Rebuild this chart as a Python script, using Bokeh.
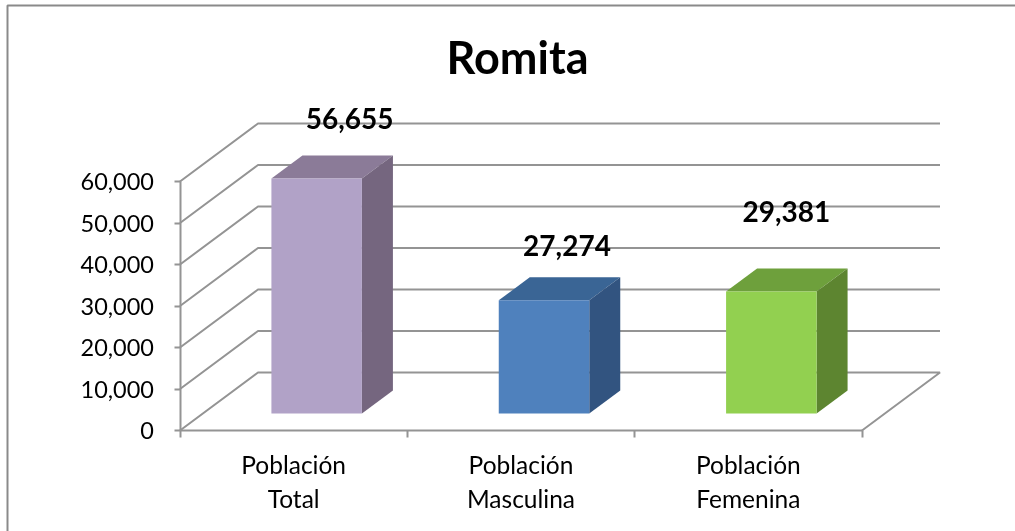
from bokeh.plotting import figure
from bokeh.embed import file_html
from bokeh.resources import INLINE
from bokeh.core.properties import value
from bokeh.models import (BoxAnnotation, ColumnDataSource, FixedTicker, Label,
                          NumeralTickFormatter, Range1d)

# ---- data ----
categories = ["Población\nTotal", "Población\nMasculina", "Población\nFemenina"]
population = [56655, 27274, 29381]
y_ticks = [0, 10000, 20000, 30000, 40000, 50000, 60000]
title_text = "Romita"

# ---- colours ----
front_colors = ["#B1A2C7", "#4F81BD", "#92D050"]
top_colors = ["#8B7B98", "#3A6595", "#6EA03C"]
side_colors = ["#75667F", "#325480", "#5D8530"]
GRID = "#949494"
FONT = "Lato"

# ---- geometry (canvas pixels of the plot box) ----
W, H = 1015, 531
X0, X3 = 179.5, 861.5      # front axis ends
Y0, Y60 = 430.0, 181.0     # value 0 and 60,000 on the front axis
ux = (X3 - X0) / 3
uy = (Y0 - Y60) / 60000
wall_dx, wall_dy = 78 / ux, 58 / uy      # depth of the floor, data units
bar_in_x, bar_in_y = 23 / ux, 17 / uy    # bar front offset from the front axis
bar_dx, bar_dy = 31 / ux, 23 / uy        # bar depth
bar_w = 90.5 / ux

p = figure(width=W, height=H, output_backend="svg", toolbar_location=None,
           x_range=Range1d(-X0 / ux, (W - X0) / ux),
           y_range=Range1d(-(H - Y0) / uy, Y0 / uy),
           min_border=0, min_border_left=0, min_border_right=0,
           min_border_top=0, min_border_bottom=0,
           outline_line_color=None, background_fill_color="white",
           border_fill_color="white")
p.styles = {"position": "fixed", "left": "0px", "top": "0px"}
p.grid.visible = False

# axes drawn inside the full-canvas frame
ya = p.yaxis[0]
ya.fixed_location = 0
ya.bounds = (0, y_ticks[-1])
ya.ticker = FixedTicker(ticks=y_ticks)
ya.formatter = NumeralTickFormatter(format="0,0")
ya.axis_line_color = GRID
ya.axis_line_width = 2
ya.major_tick_line_color = GRID
ya.major_tick_line_width = 2
ya.major_tick_out = 6
ya.major_tick_in = 0
ya.minor_tick_line_color = None
ya.major_label_standoff = 20
ya.major_label_text_font = FONT
ya.major_label_text_font_size = "23.5px"
ya.major_label_text_color = "black"

xa = p.xaxis[0]
xa.fixed_location = 0
xa.bounds = (0, 3)
centres = [i + 0.5 for i in range(len(categories))]
xa.ticker = FixedTicker(ticks=centres, minor_ticks=[0, 1, 2, 3])
xa.major_label_overrides = {c: n for c, n in zip(centres, categories)}
xa.axis_line_color = GRID
xa.axis_line_width = 2
xa.major_tick_line_color = None
xa.major_tick_out = 0
xa.major_tick_in = 0
xa.minor_tick_line_color = GRID
xa.minor_tick_line_width = 2
xa.minor_tick_out = 7
xa.minor_tick_in = 0
xa.major_label_standoff = 12
xa.major_label_text_font = FONT
xa.major_label_text_font_size = "24.5px"
xa.major_label_text_color = "black"

# walls: side-wall diagonals and back-wall grid lines
for t in y_ticks[1:]:
    p.line([0, wall_dx, 3 + wall_dx], [t, t + wall_dy, t + wall_dy],
           line_color=GRID, line_width=2)
# floor
p.line([0, wall_dx, 3 + wall_dx, 3], [0, wall_dy, wall_dy, 0],
       line_color=GRID, line_width=2)

# 3D bars
for i, v in enumerate(population):
    x1 = centres[i] + bar_in_x - bar_w / 2
    x2 = x1 + bar_w
    b = bar_in_y
    p.patch([x1, x2, x2 + bar_dx, x1 + bar_dx],
            [b + v, b + v, b + v + bar_dy, b + v + bar_dy],
            fill_color=top_colors[i], line_color=None)
    p.patch([x2, x2 + bar_dx, x2 + bar_dx, x2],
            [b, b + bar_dy, b + v + bar_dy, b + v],
            fill_color=side_colors[i], line_color=None)
    p.patch([x1, x2, x2, x1], [b, b, b + v, b + v],
            fill_color=front_colors[i], line_color=None)

# value labels
label_dx = [56, 46, 38]
label_dy = [-60, -55, -80]
src = ColumnDataSource(dict(
    x=centres, y=[v + bar_in_y for v in population],
    text=[f"{v:,}" for v in population], dx=label_dx, dy=label_dy))
p.text("x", "y", text="text", source=src, x_offset="dx", y_offset="dy",
       text_font=value(FONT), text_font_style="bold", text_font_size="28px",
       text_align="center", text_baseline="middle", text_color="black")

# title and outer frame line (screen y of annotations counts from the bottom)
p.add_layout(Label(x=517, y=H - 56, x_units="screen", y_units="screen", text=title_text,
                   text_font=FONT, text_font_style="bold", text_font_size="45px",
                   text_align="center", text_baseline="middle", text_color="black"))
p.add_layout(BoxAnnotation(left=7, right=W + 20, top=H - 5, bottom=-20,
                           left_units="screen", right_units="screen",
                           top_units="screen", bottom_units="screen",
                           fill_alpha=0, line_color="#8A8A8A", line_width=2,
                           line_alpha=1))

open("out.html", "w").write(file_html(p, INLINE))
